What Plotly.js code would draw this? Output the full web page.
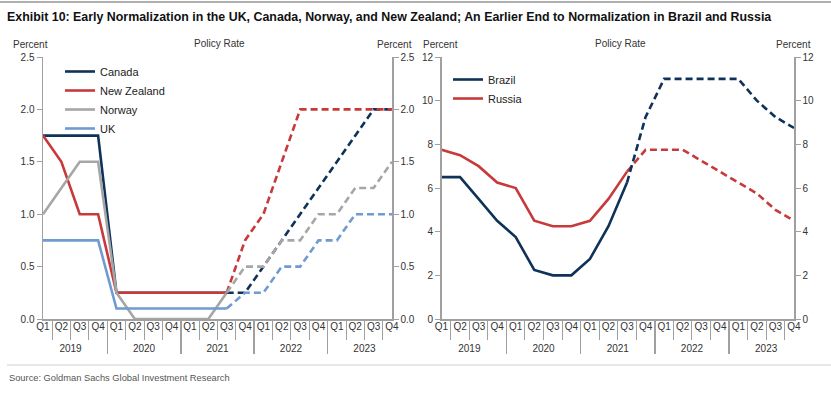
<!DOCTYPE html>
<html>
<head>
<meta charset="utf-8">
<script src="https://cdn.plot.ly/plotly-3.0.1.min.js"></script>
<style>html,body{margin:0;padding:0;background:#fff;}#chart{width:831px;height:393px;}</style>
</head>
<body>
<div id="chart"></div>
<script>
// ---- data ----
const years = ['2019', '2020', '2021', '2022', '2023'];
const quarters = ['Q1', 'Q2', 'Q3', 'Q4'];
const lastActual = 10; // index of 2021 Q3: solid up to here, dashed from here on

const canada     = [1.75, 1.75, 1.75, 1.75, 0.25, 0.25, 0.25, 0.25, 0.25, 0.25, 0.25, 0.25, 0.5, 0.75, 1.0, 1.25, 1.5, 1.75, 2.0, 2.0];
const newZealand = [1.75, 1.5, 1.0, 1.0, 0.25, 0.25, 0.25, 0.25, 0.25, 0.25, 0.25, 0.75, 1.0, 1.5, 2.0, 2.0, 2.0, 2.0, 2.0, 2.0];
const norway     = [1.0, 1.25, 1.5, 1.5, 0.25, 0, 0, 0, 0, 0, 0.25, 0.5, 0.5, 0.75, 0.75, 1.0, 1.0, 1.25, 1.25, 1.5];
const uk         = [0.75, 0.75, 0.75, 0.75, 0.1, 0.1, 0.1, 0.1, 0.1, 0.1, 0.1, 0.25, 0.25, 0.5, 0.5, 0.75, 0.75, 1.0, 1.0, 1.0];

const brazil = [6.5, 6.5, 5.5, 4.5, 3.75, 2.25, 2.0, 2.0, 2.75, 4.25, 6.25, 9.25, 11, 11, 11, 11, 11, 10, 9.25, 8.75];
const russia = [7.75, 7.5, 7.0, 6.25, 6.0, 4.5, 4.25, 4.25, 4.5, 5.5, 6.75, 7.75, 7.75, 7.75, 7.25, 6.75, 6.25, 5.75, 5.0, 4.5];

// ---- build multicategory x (year row nudged down a little) ----
const xYear = [], xQ = [];
years.forEach(y => quarters.forEach(q => {
  xYear.push('<span style="baseline-shift:-6px">' + y + '</span>');
  xQ.push(q);
}));
const X = [xYear, xQ];

const NAVY = '#0f3259', RED = '#c8393b', GREY = '#a6a6a6', BLUE = '#6f9bd2';
const DASH = '7px,4px';
const LW = 2.6;

// solid (actual) on the left-hand axis, dashed (forecast) on the identical right-hand axis
function pair(name, vals, color, xa, yaL, yaR, legend, rank) {
  const solid = vals.map((v, i) => i <= lastActual ? v : null);
  const dashed = vals.map((v, i) => i >= lastActual ? v : null);
  return [
    {type: 'scatter', mode: 'lines', name: name, x: X, y: solid, xaxis: xa, yaxis: yaL,
     line: {color: color, width: LW}, legend: legend, legendrank: rank, connectgaps: false},
    {type: 'scatter', mode: 'lines', name: name, x: X, y: dashed, xaxis: xa, yaxis: yaR,
     line: {color: color, width: LW, dash: DASH}, showlegend: false, connectgaps: false}
  ];
}

const traces = [].concat(
  pair('Canada', canada, NAVY, 'x', 'y', 'y2', 'legend', 1),
  pair('New Zealand', newZealand, RED, 'x', 'y', 'y2', 'legend', 2),
  pair('Norway', norway, GREY, 'x', 'y', 'y2', 'legend', 3),
  pair('UK', uk, BLUE, 'x', 'y', 'y2', 'legend', 4),
  pair('Russia', russia, RED, 'x2', 'y3', 'y4', 'legend2', 2),
  pair('Brazil', brazil, NAVY, 'x2', 'y3', 'y4', 'legend2', 1)
);

const W = 831, H = 393;
const FONT = 'Liberation Sans, Arial, sans-serif';
const AX = '#a0a0a0';
const tickFont = {family: FONT, size: 10, color: '#333'};

function xAxis(domain, anchor) {
  return {
    type: 'multicategory', domain: domain, anchor: anchor,
    showline: true, linecolor: AX, linewidth: 1.5,
    ticks: 'outside', tickson: 'boundaries', ticklen: 19, tickcolor: AX, tickwidth: 1,
    tickangle: 0, ticklabelstandoff: -3,
    showdividers: true, dividercolor: AX, dividerwidth: 1.5,
    tickfont: tickFont, showgrid: false, zeroline: false, fixedrange: true
  };
}
function yAxis(domain, anchor, range, dtick, fmt, side, overlay) {
  const a = {
    domain: domain, anchor: anchor, range: range, dtick: dtick, tickformat: fmt,
    side: side, showline: true, linecolor: AX, linewidth: 1.5,
    ticks: 'outside', ticklen: 5, tickcolor: AX, tickwidth: 1,
    tickfont: tickFont, showgrid: false, zeroline: false, fixedrange: true
  };
  if (overlay) { a.overlaying = overlay; delete a.domain; }
  return a;
}

const yDom = [74 / H, 336 / H];
const layout = {
  width: W, height: H,
  margin: {l: 0, r: 0, t: 0, b: 0},
  paper_bgcolor: '#fff', plot_bgcolor: 'rgba(0,0,0,0)',
  font: {family: FONT, color: '#222'},
  title: {
    text: 'Exhibit 10: Early Normalization in the UK, Canada, Norway, and New Zealand; An Earlier End to Normalization in Brazil and Russia',
    x: 7 / W, xanchor: 'left', xref: 'paper', y: 1 - 17 / H, yanchor: 'middle', yref: 'paper',
    font: {family: FONT, size: 12.4, weight: 'bold', color: '#111'}
  },
  showlegend: true,
  xaxis: xAxis([43 / W, 392 / W], 'y'),
  yaxis: yAxis(yDom, 'x', [0, 2.5], 0.5, '.1f', 'left'),
  yaxis2: yAxis(yDom, 'x', [0, 2.5], 0.5, '.1f', 'right', 'y'),
  xaxis2: xAxis([441.5 / W, 794 / W], 'y3'),
  yaxis3: yAxis(yDom, 'x2', [0, 12], 2, 'd', 'left'),
  yaxis4: yAxis(yDom, 'x2', [0, 12], 2, 'd', 'right', 'y3'),
  legend: {x: 60 / W, y: 1 - 57 / H, xanchor: 'left', yanchor: 'top', bgcolor: 'rgba(0,0,0,0)',
           font: {family: FONT, size: 11, color: '#222'}, itemwidth: 30, tracegroupgap: 0},
  legend2: {x: 448 / W, y: 1 - 65 / H, xanchor: 'left', yanchor: 'top', bgcolor: 'rgba(0,0,0,0)',
            font: {family: FONT, size: 11, color: '#222'}, itemwidth: 30, tracegroupgap: 0},
  annotations: [
    {text: 'Percent', x: 30 / W, y: 1 - 44 / H},
    {text: 'Policy Rate', x: 219 / W, y: 1 - 43 / H},
    {text: 'Percent', x: 394 / W, y: 1 - 44 / H},
    {text: 'Percent', x: 440 / W, y: 1 - 44 / H},
    {text: 'Policy Rate', x: 620 / W, y: 1 - 43 / H},
    {text: 'Percent', x: 793 / W, y: 1 - 44 / H},
    {text: 'Source: Goldman Sachs Global Investment Research', x: 7 / W, y: 1 - 378 / H, xanchor: 'left',
     font: {family: FONT, size: 9.3, color: '#555'}}
  ].map(a => Object.assign({xref: 'paper', yref: 'paper', showarrow: false, xanchor: 'center', yanchor: 'middle',
                            font: {family: FONT, size: 10, color: '#333'}}, a)),
  shapes: [
    {type: 'line', xref: 'paper', yref: 'paper', x0: 0, x1: 1, y0: 1 - 2 / H, y1: 1 - 2 / H, line: {color: '#b0b0b0', width: 2}},
    {type: 'line', xref: 'paper', yref: 'paper', x0: 7 / W, x1: 1, y0: 1 - 365 / H, y1: 1 - 365 / H, line: {color: '#cfcfcf', width: 1}}
  ]
};

Plotly.newPlot('chart', traces, layout, {displayModeBar: false, staticPlot: true});
</script>
</body>
</html>
